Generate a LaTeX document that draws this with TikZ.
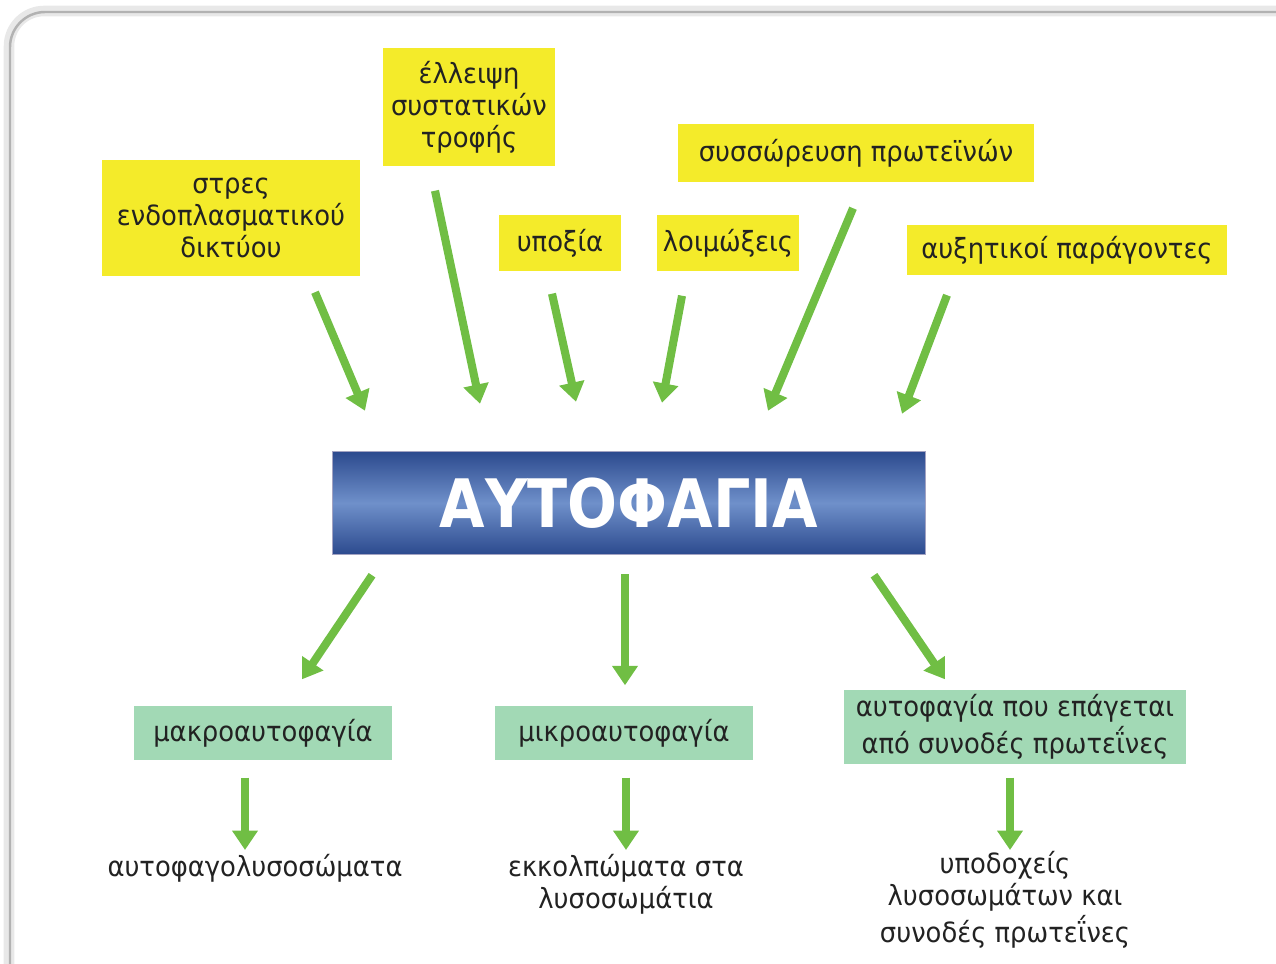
\documentclass[tikz,border=0pt]{standalone}
\usepackage{fontspec}
\setmainfont[FakeStretch=0.93]{DejaVu Sans}
\newfontfamily\titlefont[FakeStretch=0.88]{DejaVu Sans}
\usetikzlibrary{arrows.meta,calc}
\definecolor{causeYellow}{HTML}{F4EB2A}
\definecolor{typeGreen}{HTML}{A2D9B5}
\definecolor{arrowGreen}{HTML}{70BE44}
\definecolor{blueDark}{HTML}{2C4A8E}
\definecolor{blueLight}{HTML}{6F90CA}
\definecolor{textGray}{HTML}{222222}
\begin{document}
\begin{tikzpicture}[x=0.01cm,y=-0.01cm,
  causeBox/.style={rectangle, fill=causeYellow, align=center, inner sep=0pt, text=textGray, font=\fontsize{7.9}{9.1}\selectfont},
  mainBox/.style={rectangle, draw=blue!20!gray!60, line width=0.4pt, top color=blueDark, bottom color=blueDark, middle color=blueLight, text=white, inner sep=0pt, font=\titlefont\fontsize{19}{22}\selectfont\bfseries},
  typeBox/.style={rectangle, fill=typeGreen, align=center, inner sep=0pt, text=textGray, font=\fontsize{7.9}{9.1}\selectfont},
  resultLabel/.style={align=center, inner sep=0pt, text=textGray, font=\fontsize{7.9}{9.1}\selectfont},
  greenArrow/.style={draw=arrowGreen, line width=2.3pt, -{Triangle[width=7pt,length=5.5pt]}}
]
\useasboundingbox (0,0) rectangle (1276,964);
\clip (0,0) rectangle (1276,964);
% frame
\draw[gray!18, line width=3pt, rounded corners=10] (9,11) rectangle (1330,1010);
\draw[gray!60, line width=0.7pt, rounded corners=10] (10,12) rectangle (1330,1010);

% causes
\node[causeBox, minimum width=2.57cm, minimum height=1.15cm] (stress) at (231,218) {στρες\\ενδοπλασματικού\\δικτύου};
\node[causeBox, minimum width=1.72cm, minimum height=1.18cm] (lack) at (469,107) {έλλειψη\\συστατικών\\τροφής};
\node[causeBox, minimum width=1.21cm, minimum height=0.56cm] (hypoxia) at (560,243) {υποξία};
\node[causeBox, minimum width=1.42cm, minimum height=0.56cm] (infect) at (728,243) {λοιμώξεις};
\node[causeBox, minimum width=3.56cm, minimum height=0.57cm] (aggr) at (856,153) {συσσώρευση πρωτεϊνών};
\node[causeBox, minimum width=3.19cm, minimum height=0.49cm] (growth) at (1067,250) {αυξητικοί παράγοντες};

% main
\node[mainBox, minimum width=5.93cm, minimum height=1.03cm] (auto) at (629,503) {ΑΥΤΟΦΑΓΙΑ};

% types
\node[typeBox, minimum width=2.57cm, minimum height=0.54cm] (macro) at (263,733) {μακροαυτοφαγία};
\node[typeBox, minimum width=2.57cm, minimum height=0.54cm] (micro) at (624,733) {μικροαυτοφαγία};
\node[typeBox, minimum width=3.42cm, minimum height=0.74cm] (cma) at (1015,727) {αυτοφαγία που επάγεται\\από συνοδές πρωτεΐνες};

% results
\node[resultLabel] (resMacro) at (255,868) {αυτοφαγολυσοσώματα};
\node[resultLabel] (resMicro) at (626,884) {εκκολπώματα στα\\λυσοσωμάτια};
\node[resultLabel] (resCma) at (1005,900) {υποδοχείς\\λυσοσωμάτων και\\συνοδές πρωτεΐνες};

% arrows in
\draw[greenArrow] ($(stress.south)+(84,16)$) -- ($(auto.north)+(-264,-40)$);
\draw[greenArrow] ($(lack.south)+(-34,24)$) -- ($(auto.north)+(-149,-47)$);
\draw[greenArrow] ($(hypoxia.south)+(-8,22)$) -- ($(auto.north)+(-53,-49)$);
\draw[greenArrow] ($(infect.south)+(-46,24)$) -- ($(auto.north)+(33,-48)$);
\draw[greenArrow] ($(aggr.south)+(-3,26)$) -- ($(auto.north)+(139,-40)$);
\draw[greenArrow] ($(growth.south)+(-120,20)$) -- ($(auto.north)+(273,-37)$);

% arrows out
\draw[greenArrow] ($(auto.south)+(-257,20)$) -- ($(macro.north)+(39,-26)$);
\draw[greenArrow] ($(auto.south)+(-4,19)$) -- ($(micro.north)+(1,-20)$);
\draw[greenArrow] ($(auto.south)+(245,20)$) -- ($(cma.north)+(-70,-10)$);
\draw[greenArrow] ($(macro.south)+(-18,17)$) -- ($(resMacro.center)+(-10,-18)$);
\draw[greenArrow] ($(micro.south)+(2,17)$) -- ($(resMicro.center)+(0,-34)$);
\draw[greenArrow] ($(cma.south)+(-5,13)$) -- ($(resCma.center)+(5,-50)$);
\end{tikzpicture}
\end{document}
